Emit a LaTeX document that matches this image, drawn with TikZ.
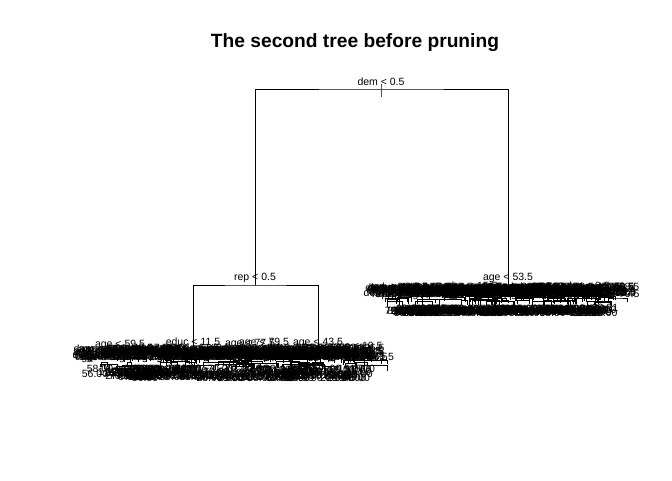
\documentclass[tikz,border=0pt]{standalone}
\usepackage{fontspec}
\setmainfont{Liberation Sans}
\newcommand\vnm[1]{\ifcase#1 age\or educ\or dem\or rep\else age\fi}
\begin{document}
\begin{tikzpicture}[x=1pt,y=-1pt,
  lab/.style={font=\fontsize{10.5}{12}\selectfont,inner sep=0pt,anchor=base},
  ttl/.style={font=\bfseries\fontsize{19.2}{22}\selectfont,inner sep=0pt,anchor=base},
  edge/.style={line width=0.9pt,black},
  tick/.style={line width=1pt,draw={rgb,1:red,0.15;green,0.45;blue,0.15}}]
\useasboundingbox (0,0) rectangle (672,480);
\node[ttl] (title) at (355,47) {The second tree before pruning};
% main splits
\coordinate (n1) at (381,89);
\coordinate (n2) at (255,285);
\coordinate (n3) at (508,287);
\coordinate (n4) at (193,352);
\coordinate (n5) at (318,352);
\draw[edge] (n2) |- (n1) -| (n3);
\draw[edge] (n4) |- (n2) -| (n5);
\coordinate (t1) at (381,84);
\coordinate (t2) at (381,97);
\draw[tick] (t1) -- (t2);
\node[lab] (l1) at (381,85) {dem < 0.5};
\node[lab] (l2) at (255,280) {rep < 0.5};
\node[lab] (l3) at (508,280) {age < 53.5};
% left subtree first labels
\node[lab] (l4) at (120,347) {age < 59.5};
\node[lab] (l5) at (193,345) {educ < 11.5};
\node[lab] (l6) at (250,346) {age < 77.5};
\node[lab] (l7) at (264,345) {age < 79.5};
\node[lab] (l8) at (318,345) {age < 43.5};
\node[lab] (l9) at (355,349) {educ < 10.5};
\node[lab] (l10) at (103,352) {age < 35.5};
% right subtree first labels
\node[lab] (r1) at (470,289) {educ < 15.5};
\node[lab] (r2) at (395,290) {age < 44.5};
\node[lab] (r3) at (585,289) {educ < 9.5};
\node[lab] (r4) at (610,292) {age < 65.5};
\pgfmathsetseed{4321}
% left split band
\foreach \i in {1,...,200}{
  \pgfmathsetmacro\px{98+270*rnd}
  \pgfmathsetmacro\py{351+10*rnd}
  \pgfmathrandominteger\va{0}{4}
  \pgfmathrandominteger\vb{9}{85}
  \node[lab] (a\i) at (\px,\py) {\vnm{\va} < \vb.5};
}
% left branch brackets
\foreach \i in {1,...,70}{
  \pgfmathsetmacro\px{100+265*rnd}
  \pgfmathsetmacro\py{356+11*rnd}
  \pgfmathsetmacro\w{4+24*rnd}
  \pgfmathsetmacro\h{2+4*rnd}
  \coordinate (bt\i) at (\px+\w/2,\py);
  \coordinate (bl\i) at (\px,\py+\h);
  \coordinate (br\i) at (\px+\w,\py+\h);
  \draw[edge] (bl\i) |- (bt\i) -| (br\i);
}
% left leaves
\foreach \i in {1,...,160}{
  \pgfmathsetmacro\px{108+255*rnd}
  \pgfmathsetmacro\py{372+10*rnd}
  \pgfmathrandominteger\vb{10}{99}
  \node[lab] (c\i) at (\px,\py) {\vb.00};
}
\node[lab] (c0) at (95,377) {56.00};
\node[lab] (c01) at (100,372) {58.00};
% right split band
\foreach \i in {1,...,210}{
  \pgfmathsetmacro\px{390+225*rnd}
  \pgfmathsetmacro\py{290+8*rnd}
  \pgfmathrandominteger\va{0}{4}
  \pgfmathrandominteger\vb{9}{85}
  \node[lab] (d\i) at (\px,\py) {\vnm{\va} < \vb.5};
}
% right branch brackets
\foreach \i in {1,...,60}{
  \pgfmathsetmacro\px{385+230*rnd}
  \pgfmathsetmacro\py{295+7*rnd}
  \pgfmathsetmacro\w{4+24*rnd}
  \pgfmathsetmacro\h{2+4*rnd}
  \coordinate (et\i) at (\px+\w/2,\py);
  \coordinate (el\i) at (\px,\py+\h);
  \coordinate (er\i) at (\px+\w,\py+\h);
  \draw[edge] (el\i) |- (et\i) -| (er\i);
}
% right leaves
\foreach \i in {1,...,150}{
  \pgfmathsetmacro\px{400+205*rnd}
  \pgfmathsetmacro\py{312+5*rnd}
  \pgfmathrandominteger\vb{10}{99}
  \node[lab] (f\i) at (\px,\py) {\vb.00};
}
\node[lab] (f0) at (398,314) {79.00};
\node[lab] (f01) at (605,311) {28.91};
\end{tikzpicture}
\end{document}
